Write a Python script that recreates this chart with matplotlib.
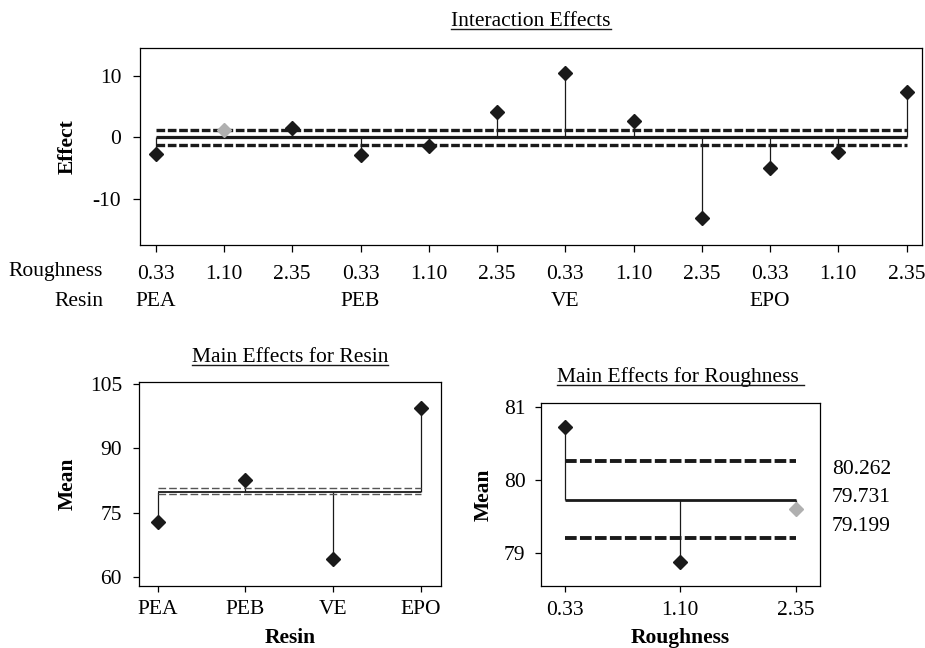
import matplotlib
matplotlib.use("Agg")
import matplotlib.pyplot as plt
from matplotlib.lines import Line2D

plt.rcParams["font.family"] = ["Liberation Serif", "DejaVu Serif"]
plt.rcParams["font.size"] = 15.5
plt.rcParams["axes.unicode_minus"] = False
plt.rcParams["axes.linewidth"] = 0.9

# --- data -------------------------------------------------------------
resins = ["PEA", "PEB", "VE", "EPO"]
roughness_levels = ["0.33", "1.10", "2.35"]

# interaction effects, ordered resin-major (PEA 0.33, PEA 1.10, ...)
interaction_effects = [-2.6, 1.2, 1.6, -2.9, -1.4, 4.2, 10.4, 2.7, -13.0, -5.0, -2.4, 7.4]
interaction_center = 0.0
interaction_limits = [-1.25, 1.25]

resin_means = [72.9, 82.7, 64.2, 99.4]
resin_center = 79.731
resin_limits = [79.4, 80.65]

roughness_means = [80.72, 78.87, 79.60]
roughness_center = 79.731
roughness_limits = [79.199, 80.262]

DARK = "#1a1a1a"
GRAY = "#b0b0b0"


def point_colors(values, limits):
    lo, hi = limits
    return [GRAY if lo <= v <= hi else DARK for v in values]


def anom_panel(ax, values, center, limits, center_lw, limit_style, ms=7.5):
    xs = list(range(len(values)))
    # stems from the center line to each mean
    ax.vlines(xs, [center] * len(xs), values, color=DARK, lw=0.9, zorder=2)
    ax.hlines(center, xs[0], xs[-1], color=DARK, lw=center_lw, zorder=3)
    for lim in limits:
        ax.plot([xs[0], xs[-1]], [lim, lim], zorder=3, **limit_style)
    for x, v, c in zip(xs, values, point_colors(values, limits)):
        ax.plot(x, v, marker="D", ms=ms, color=c, mec=c, zorder=4)
    ax.tick_params(direction="out", width=0.9, right=False, top=False)


def place_labels(ax, xlab_y=None, ylab_x=None):
    if xlab_y is not None:
        ax.xaxis.label.set_va("center")
        ax.xaxis.set_label_coords(0.5, xlab_y)
    if ylab_x is not None:
        ax.yaxis.label.set_va("center")
        ax.yaxis.set_label_coords(ylab_x, 0.5)


def add_title(ax, text, y):
    return ax.text(0.5, y, text, transform=ax.transAxes, ha="center",
                   va="baseline", fontsize=15.5)


fig = plt.figure(figsize=(9.25, 6.48), dpi=100)

# --- interaction effects ---------------------------------------------
ax1 = fig.add_axes([0.1514, 0.622, 0.8456, 0.304])
bold_style = dict(color=DARK, lw=2.4, linestyle=(0, (2.6, 0.8)))
anom_panel(ax1, interaction_effects, interaction_center, interaction_limits,
           center_lw=2.3, limit_style=bold_style)
ax1.set_xlim(-0.23, len(interaction_effects) - 1 + 0.23)
ax1.set_ylim(-17.4, 14.5)
ax1.set_yticks([-10, 0, 10])
ax1.set_xticks(range(len(interaction_effects)))
ax1.set_xticklabels(roughness_levels * len(resins))
ax1.tick_params(axis="x", length=5, pad=9.4)
ax1.tick_params(axis="y", length=5, pad=8.5)
ax1.set_ylabel("Effect", fontweight="bold")
place_labels(ax1, ylab_x=-0.092)
ax1.text(-0.047, -0.1355, "Roughness", transform=ax1.transAxes,
         ha="right", va="center")
ax1.text(-0.047, -0.288, "Resin", transform=ax1.transAxes,
         ha="right", va="center")
for i, name in enumerate(resins):
    ax1.text(i * len(roughness_levels), -0.288, name,
             transform=ax1.get_xaxis_transform(), ha="center", va="center")
t1 = add_title(ax1, "Interaction Effects", 1.112)

# --- main effects for resin ------------------------------------------
ax2 = fig.add_axes([0.1506, 0.0961, 0.3258, 0.315])
thin_style = dict(color="#555555", lw=1.0, linestyle=(0, (5.5, 2.2)))
anom_panel(ax2, resin_means, resin_center, resin_limits,
           center_lw=1.3, limit_style=thin_style)
ax2.set_xlim(-0.21, 3.23)
ax2.set_ylim(57.9, 105.6)
ax2.set_yticks([60, 75, 90, 105])
ax2.set_xticks(range(len(resins)))
ax2.set_xticklabels(resins)
ax2.tick_params(axis="x", length=4, pad=6)
ax2.tick_params(axis="y", length=4, pad=8.5)
ax2.set_xlabel("Resin", fontweight="bold")
ax2.set_ylabel("Mean", fontweight="bold")
place_labels(ax2, xlab_y=-0.256, ylab_x=-0.236)
t2 = add_title(ax2, "Main Effects for Resin", 1.098)

# --- main effects for roughness --------------------------------------
ax3 = fig.add_axes([0.5845, 0.0961, 0.302, 0.2815])
rough_style = dict(color=DARK, lw=2.8, linestyle=(0, (3.0, 0.85)))
anom_panel(ax3, roughness_means, roughness_center, roughness_limits,
           center_lw=2.0, limit_style=rough_style)
ax3.set_xlim(-0.21, 2.21)
ax3.set_ylim(78.55, 81.05)
ax3.set_yticks([79, 80, 81])
ax3.set_xticks(range(len(roughness_levels)))
ax3.set_xticklabels(roughness_levels)
ax3.tick_params(axis="x", length=4, pad=7.3)
ax3.tick_params(axis="y", length=4, pad=7)
ax3.set_xlabel("Roughness", fontweight="bold")
ax3.set_ylabel("Mean", fontweight="bold")
place_labels(ax3, xlab_y=-0.287, ylab_x=-0.203)
t3 = add_title(ax3, "Main Effects for Roughness ", 1.118)

# decision limit / center values listed to the right of the panel
for yy, val in zip([0.638, 0.482, 0.323],
                   [roughness_limits[1], roughness_center, roughness_limits[0]]):
    ax3.text(1.042, yy, f"{val:.3f}", transform=ax3.transAxes,
             ha="left", va="center")

# underline the panel titles
fig.canvas.draw()
W, H = fig.bbox.width, fig.bbox.height
for t in (t1, t2, t3):
    bb = t.get_window_extent()
    base_y = t.get_transform().transform(t.get_position())[1]
    y = (base_y - 3.5) / H
    fig.add_artist(Line2D([bb.x0 / W, bb.x1 / W], [y, y],
                          transform=fig.transFigure, color=DARK, lw=1.0))

fig.savefig("out.png", dpi=100)
